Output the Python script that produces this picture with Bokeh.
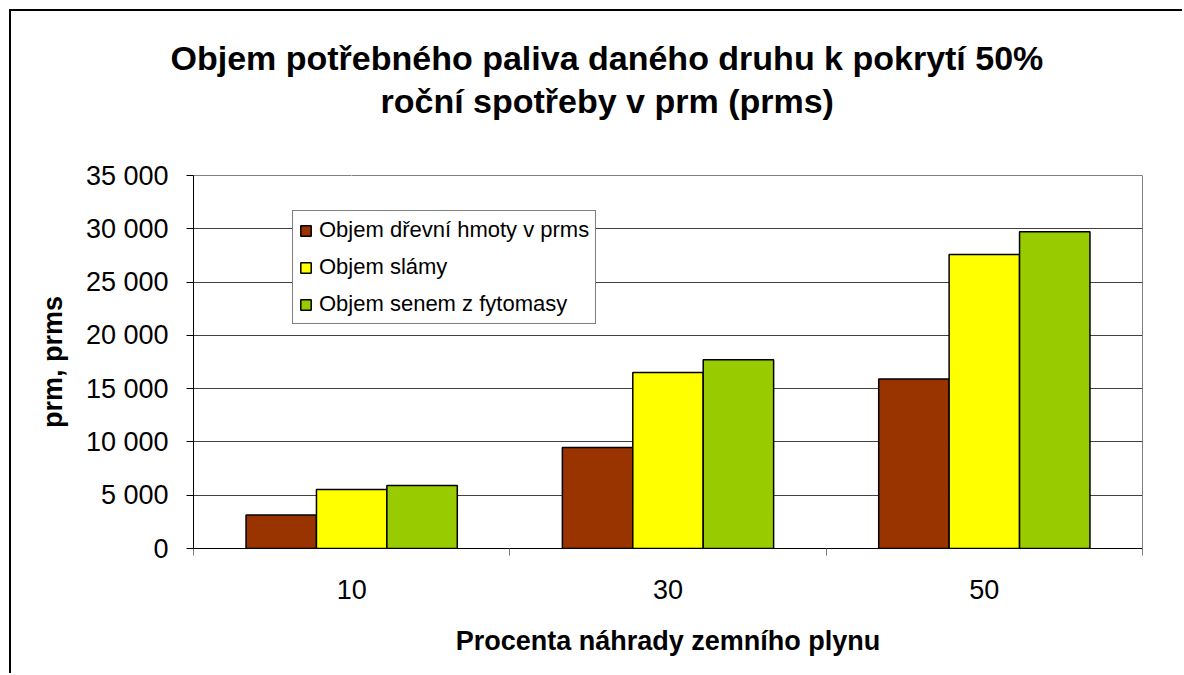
import numpy as np
from bokeh.plotting import figure
from bokeh.models import Range1d, FixedTicker, ColumnDataSource, Legend, Title, LinearAxis
from bokeh.transform import dodge
from bokeh.embed import file_html
from bokeh.resources import INLINE

# ---- data ----
categories = ["10", "30", "50"]
wood = [3150, 9480, 15900]      # Objem dřevní hmoty v prms
straw = [5530, 16520, 27580]    # Objem slámy
hay = [5900, 17720, 29720]      # Objem senem z fytomasy
series_names = ["Objem dřevní hmoty v prms", "Objem slámy", "Objem senem z fytomasy"]
series_colors = ["#993300", "#FFFF00", "#99CC00"]
y_ticks = [0, 5000, 10000, 15000, 20000, 25000, 30000, 35000]
y_tick_labels = ["0", "5 000", "10 000", "15 000", "20 000", "25 000", "30 000", "35 000"]
title_lines = ["Objem potřebného paliva daného druhu k pokrytí 50%", "roční spotřeby v prm (prms)"]
x_title = "Procenta náhrady zemního plynu"
y_title = "prm, prms"

FONT = "Liberation Sans"
BAR_W = 0.2226
W, H = 1173, 664

centers = [i + 0.5 for i in range(len(categories))]
src = ColumnDataSource(dict(x=centers, wood=wood, straw=straw, hay=hay))

p = figure(width=W, height=H, output_backend="svg", toolbar_location=None, title=None,
           x_range=Range1d(0, len(categories)), y_range=Range1d(0, 35000),
           min_border_left=182, min_border_right=42, min_border_bottom=127,
           min_border_top=164)
p.styles = {"border-left": "2px solid black", "border-top": "2px solid black",
            "margin-left": "9px", "margin-top": "9px"}
p.background_fill_color = "white"
p.border_fill_color = "white"
p.outline_line_color = "#808080"
p.outline_line_width = 1

# blank spacer axis between plot area and title (white tick on white background)
spacer = LinearAxis(ticker=FixedTicker(ticks=[centers[0]]), axis_line_color=None,
                    major_tick_line_color="white", major_tick_line_width=1,
                    minor_tick_line_color=None,
                    major_tick_out=56, major_tick_in=0, minor_tick_out=0,
                    major_label_standoff=0, major_label_text_font_size="1px",
                    major_label_overrides={centers[0]: ""})
p.add_layout(spacer, "above")

# two-line title (bottom line added first)
t2 = Title(text=title_lines[1], align="left", offset=187, text_font=FONT,
           text_font_size="34px", text_font_style="bold", text_color="black", standoff=0)
t1 = Title(text=title_lines[0], align="left", offset=-23, text_font=FONT,
           text_font_size="34px", text_font_style="bold", text_color="black", standoff=6)
p.add_layout(t2, "above")
p.add_layout(t1, "above")

renderers = []
for key, off, col in zip(["wood", "straw", "hay"], [-BAR_W, 0, BAR_W], series_colors):
    r = p.vbar(x=dodge("x", off), top=key, width=BAR_W, source=src,
               fill_color=col, line_color="black", line_width=1.5)
    renderers.append(r)

legend = Legend(items=[(n, [r]) for n, r in zip(series_names, renderers)],
                location=(99, 224), label_text_font=FONT, label_text_font_size="22px",
                label_text_color="black",
                glyph_width=13, glyph_height=13, label_height=22, label_standoff=7,
                spacing=11, padding=6, margin=0, border_line_color="black",
                border_line_width=1, background_fill_color="white", background_fill_alpha=1)
p.add_layout(legend, "center")

# y axis
p.yaxis.ticker = FixedTicker(ticks=y_ticks)
p.yaxis.major_label_overrides = {t: l for t, l in zip(y_ticks, y_tick_labels)}
p.yaxis.major_label_text_font = FONT
p.yaxis.major_label_text_font_size = "27px"
p.yaxis.major_label_text_color = "black"
p.yaxis.major_label_standoff = 18
p.yaxis.major_tick_out = 7
p.yaxis.major_tick_in = 0
p.yaxis.minor_tick_line_color = None
p.yaxis.axis_line_color = "black"
p.yaxis.major_tick_line_color = "black"
p.yaxis.axis_label = y_title
p.yaxis.axis_label_text_font = FONT
p.yaxis.axis_label_text_font_size = "27px"
p.yaxis.axis_label_text_font_style = "bold"
p.yaxis.axis_label_text_color = "black"
p.yaxis.axis_label_standoff = 15

# x axis (the bottom one)
xa = p.below[0]
xa.ticker = FixedTicker(ticks=centers, minor_ticks=list(range(len(categories) + 1)))
xa.major_label_overrides = {c: l for c, l in zip(centers, categories)}
xa.major_label_text_font = FONT
xa.major_label_text_font_size = "27px"
xa.major_label_text_color = "black"
xa.major_tick_line_color = None
xa.major_tick_out = 7
xa.major_tick_in = 0
xa.major_label_standoff = 24
xa.minor_tick_line_color = "#808080"
xa.minor_tick_out = 7
xa.minor_tick_in = 0
xa.axis_line_color = "black"
xa.axis_label = x_title
xa.axis_label_text_font = FONT
xa.axis_label_text_font_size = "27px"
xa.axis_label_text_font_style = "bold"
xa.axis_label_text_color = "black"
xa.axis_label_standoff = 24

p.xgrid.grid_line_color = None
p.ygrid.grid_line_color = "#404040"
p.ygrid.grid_line_width = 1

open("out.html", "w").write(file_html(p, INLINE))
